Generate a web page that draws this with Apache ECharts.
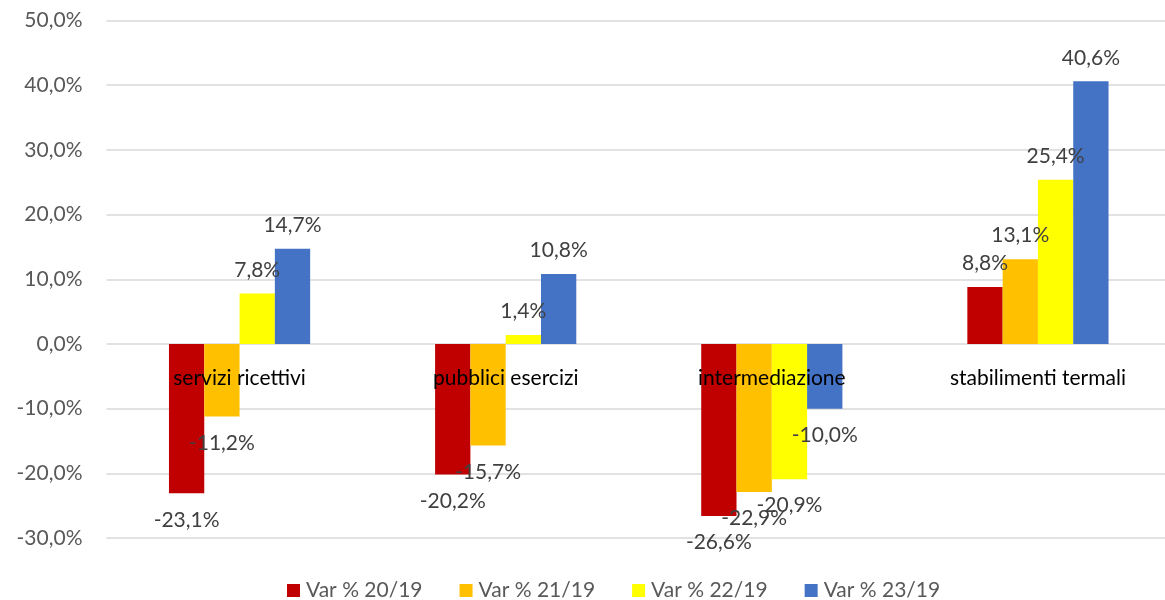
<!DOCTYPE html>
<html>
<head>
<meta charset="utf-8">
<script src="https://cdn.jsdelivr.net/npm/echarts@6/dist/echarts.min.js"></script>
<style>
html,body{margin:0;padding:0;background:#fff;overflow:hidden;}
#chart{width:1171px;height:600px;}
</style>
</head>
<body>
<div id="chart"></div>
<script>
const categories = ['servizi ricettivi', 'pubblici esercizi', 'intermediazione', 'stabilimenti termali'];
const seriesNames = ['Var % 20/19', 'Var % 21/19', 'Var % 22/19', 'Var % 23/19'];
const var2019_20 = [-23.1, -20.2, -26.6, 8.8];
const var2019_21 = [-11.2, -15.7, -22.9, 13.1];
const var2019_22 = [7.8, 1.4, -20.9, 25.4];
const var2019_23 = [14.7, 10.8, -10.0, 40.6];
const yTickMin = -30, yTickMax = 50, yTickStep = 10;
const colors = ['#C00000', '#FFC000', '#FFFF00', '#4472C4'];

const FONT = 'Lato';
const fmt = v => v.toFixed(1).replace('.', ',') + '%';

function makeData(arr) {
  return arr.map(v => ({
    value: v,
    label: v >= 0 ? { position: 'top', distance: 13 } : { position: 'bottom', distance: 16 }
  }));
}

const allSeries = [var2019_20, var2019_21, var2019_22, var2019_23].map((arr, i) => ({
  name: seriesNames[i],
  type: 'bar',
  barWidth: 35.3,
  barGap: '0%',
  z: 2,
  itemStyle: { color: colors[i] },
  data: makeData(arr),
  label: {
    show: true,
    color: '#404040',
    fontFamily: FONT,
    fontSize: 21,
    formatter: p => fmt(p.value)
  }
}));

const GRID_TOP = 20.5, GRID_BOTTOM = 62, H = 600;
const plotH = H - GRID_TOP - GRID_BOTTOM;
const zeroOffset = plotH * (0 - yTickMin) / (yTickMax - yTickMin);

const chart = echarts.init(document.getElementById('chart'), null, { renderer: 'canvas' });
chart.setOption({
  animation: false,
  backgroundColor: '#fff',
  textStyle: { fontFamily: FONT },
  grid: { left: 106.5, right: 0, top: GRID_TOP, bottom: GRID_BOTTOM, containLabel: false },
  legend: {
    data: seriesNames,
    left: 282,
    top: 575,
    icon: 'rect',
    itemWidth: 13,
    itemHeight: 13,
    itemGap: 37,
    textStyle: { color: '#595959', fontFamily: FONT, fontSize: 21, padding: [0, 0, 0, 1] }
  },
  xAxis: {
    type: 'category',
    data: categories,
    position: 'bottom',
    offset: -zeroOffset,
    z: 10,
    axisLine: { show: false, onZero: false },
    axisTick: { show: false },
    axisLabel: { color: '#000', fontFamily: FONT, fontSize: 21, margin: 24 },
    splitLine: { show: false }
  },
  yAxis: {
    type: 'value',
    min: yTickMin,
    max: yTickMax,
    interval: yTickStep,
    axisLine: { show: false },
    axisTick: { show: false },
    axisLabel: { color: '#595959', fontFamily: FONT, fontSize: 21, margin: 24, formatter: v => fmt(v) },
    splitLine: { lineStyle: { color: '#d9d9d9', width: 1.5 } }
  },
  series: allSeries
});
</script>
</body>
</html>
